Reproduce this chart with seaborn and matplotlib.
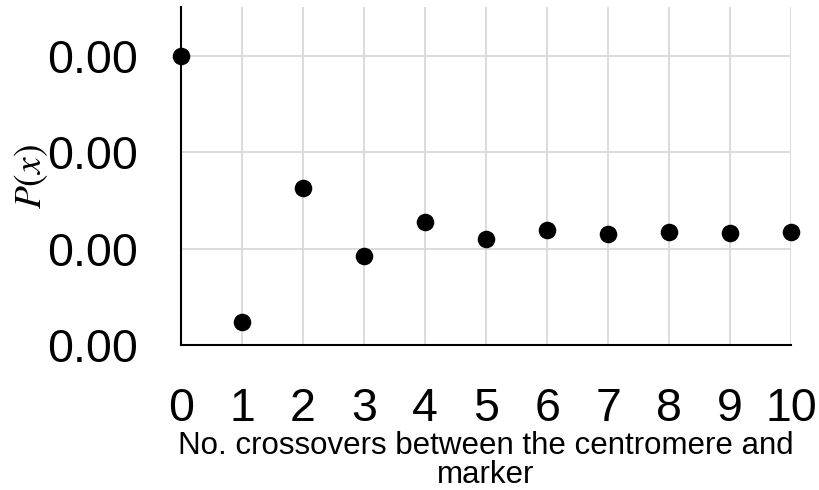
import matplotlib
matplotlib.use("Agg")
import matplotlib.pyplot as plt
import seaborn as sns
import pandas as pd

# Probability of each number of crossovers between the centromere and the marker
crossovers = [0, 1, 2, 3, 4, 5, 6, 7, 8, 9, 10]
probability = [0.00300, 0.00024, 0.00163, 0.00093, 0.00128, 0.00110,
               0.00119, 0.00115, 0.00117, 0.00116, 0.00117]
y_ticks = [0.000, 0.001, 0.002, 0.003]
x_ticks = crossovers

sns.set_theme(style="white")
plt.rcParams["font.family"] = ["Liberation Sans", "DejaVu Sans"]
plt.rcParams["mathtext.fontset"] = "stix"

df = pd.DataFrame({"x": crossovers, "p": probability})

fig = plt.figure(figsize=(8.19, 4.90), dpi=100)
ax = fig.add_axes([0.221, 0.295, 0.745, 0.690])

sns.scatterplot(data=df, x="x", y="p", ax=ax, color="black", s=160,
                edgecolor="black", linewidth=0, clip_on=False, zorder=5,
                legend=False)

ax.set_xlim(0, 10)
ax.set_ylim(0, 0.0035)
ax.set_xticks(x_ticks)
ax.set_xticklabels([str(v) for v in x_ticks])
ax.set_yticks(y_ticks)
ax.set_yticklabels([f"{v:.2f}" for v in y_ticks])
ax.tick_params(axis="both", length=0, labelsize=33.5, colors="black")
ax.tick_params(axis="y", pad=31)
ax.tick_params(axis="x", pad=30)

ax.grid(True, color="#d9d9d9", linewidth=1.3)
ax.set_axisbelow(True)
for side in ["top", "right"]:
    ax.spines[side].set_visible(False)
for side in ["left", "bottom"]:
    ax.spines[side].set_color("black")
    ax.spines[side].set_linewidth(1.5)

ax.set_xlabel("No. crossovers between the centromere and\nmarker",
              fontsize=22.5, color="black", labelpad=0, linespacing=0.95)
ax.set_ylabel("$P(x)$", fontsize=27, color="black", labelpad=0)
ax.yaxis.set_label_coords(-0.215, 0.5)

fig.savefig("out.png", dpi=100)
